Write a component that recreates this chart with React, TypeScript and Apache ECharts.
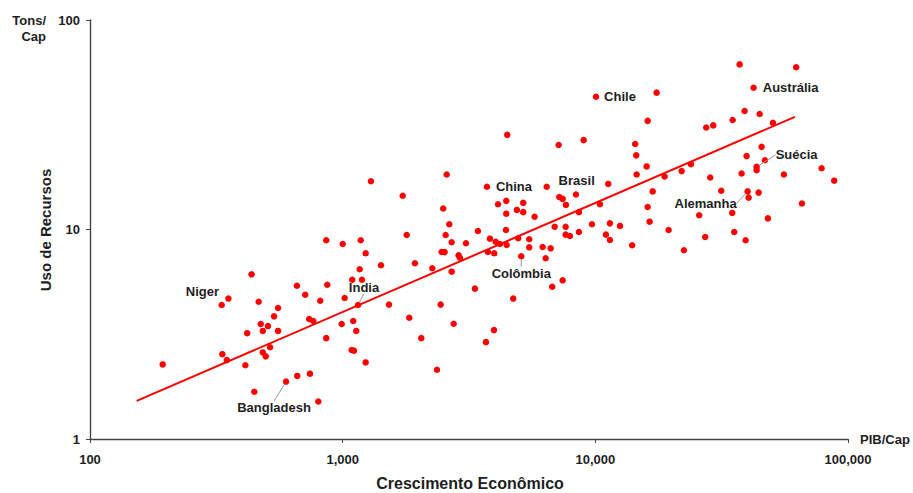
import React, { useEffect, useRef } from "react";
import * as echarts from "echarts";

// PIB per capita (x) and resource use in tons per capita (y)
const gdp = [
  194, 332, 436, 334, 348, 419, 412, 447, 465, 474, 483, 506, 483, 496, 516, 535, 555, 555,
  659, 661, 711, 737, 765, 742, 801, 815, 861, 869, 861, 991, 1000, 1018, 1091, 1101, 1085,
  1108, 1132, 1168, 1179, 1192, 1233, 1233, 1418, 1525, 1294, 1728, 1792, 1932, 2263, 2442,
  1835, 2047, 2580, 2500, 2642, 2556, 2700, 2465, 2533, 2700, 2877, 2912, 3076, 2750, 3338,
  3430, 3758, 3827, 3981, 3970, 3690, 4033, 4193, 4457, 4118, 4441, 4441, 4429, 4482, 4732,
  4894, 4953, 5184, 5184, 5475, 5475, 5750, 6186, 6358, 6655, 6752, 7424, 6901, 7158, 7198,
  7424, 7650, 7629, 7629, 7932, 8380, 8612, 8612, 8989, 9697, 10430, 11010, 11420, 11420,
  11250, 12520, 13990, 14380, 14520, 14570, 15960, 16110, 16860, 16110, 16400, 18800, 19500,
  21960, 23890, 22420, 25770, 17480, 27470, 29280, 34940, 37240, 38970, 44700, 50440, 62370,
  28490, 31500, 34830, 35460, 27220, 39330, 37920, 39690, 45510, 46910, 43480, 40430, 44290,
  48200, 55760, 65700, 78620, 88190, 2362,
];
const tons = [
  2.27, 4.36, 6.11, 2.54, 2.38, 3.2, 2.25, 1.68, 4.52, 3.54, 3.28, 3.46, 2.59, 2.48, 2.74, 3.85, 4.22, 3.28,
  5.39, 2.0, 4.88, 3.74, 3.66, 2.05, 1.51, 4.57, 8.88, 5.45, 3.03, 3.54, 8.53, 4.71, 5.76, 3.66, 2.66,
  2.64, 3.28, 6.46, 8.88, 5.76, 7.7, 2.32, 6.75, 4.38, 17.0, 14.5, 9.41, 6.9, 6.53, 4.38,
  3.79, 3.03, 18.3, 12.6, 10.6, 9.41, 8.69, 7.81, 7.8, 6.29, 7.53, 7.33, 8.6, 3.55, 5.22,
  9.83, 7.81, 9.04, 7.7, 3.31, 2.9, 8.74, 8.53, 8.43, 13.2, 13.7, 11.9, 9.95, 28.3, 4.68,
  12.4, 9.08, 13.4, 12.1, 8.98, 8.22, 11.5, 8.25, 7.29, 8.13, 5.33, 5.72, 10.3, 25.3, 14.3,
  14.0, 13.1, 10.3, 9.45, 9.31, 14.7, 12.1, 9.73, 26.7, 10.6, 13.2, 9.45, 10.7, 8.91,
  16.5, 10.4, 8.41, 25.6, 22.6, 18.3, 20.0, 33.0, 15.2, 12.8, 10.9, 17.9, 9.95,
  19.0, 20.5, 7.96, 11.7, 45.0, 30.7, 31.4, 33.3, 61.4, 36.8, 35.6, 32.3, 59.5,
  17.7, 15.3, 12.0, 9.73, 9.21, 8.88, 18.5, 22.4, 24.8, 21.4, 19.2, 14.2, 15.0,
  11.3, 18.3, 13.3, 19.6, 17.1, 2.14,
];

// Named countries
const countries = ["Niger", "India", "Bangladesh", "China", "Brasil", "Chile", "Colômbia", "Austrália", "Suécia", "Alemanha"];
const countryGdp = [353, 1150, 597, 3724, 6418, 10060, 5091, 42300, 43480, 40060];
const countryTons = [4.68, 4.36, 1.88, 16.0, 16.0, 43.0, 7.45, 47.5, 19.9, 15.2];

// Regression line end points
const trendGdp = [153, 61650];
const trendTons = [1.52, 34.5];

const xTicks = ["100", "1,000", "10,000", "100,000"];

// label placement (style only)
const labelStyle: Record<string, { dx: number; dy: number; line: boolean }> = {
  Niger: { dx: -26, dy: -7, line: false },
  India: { dx: 6, dy: -18, line: true },
  Bangladesh: { dx: -12, dy: 26, line: true },
  China: { dx: 27, dy: 0, line: false },
  Brasil: { dx: 30, dy: -6, line: false },
  Chile: { dx: 24, dy: 0, line: false },
  "Colômbia": { dx: 0, dy: 17, line: true },
  "Austrália": { dx: 37, dy: 0, line: false },
  "Suécia": { dx: 40, dy: -12, line: true },
  Alemanha: { dx: -42, dy: 12, line: true },
};

const FONT = "'Liberation Sans', Arial, sans-serif";
const TXT = "#1e1e1e";
const RED = "#ff0000";

export default function App() {
  const ref = useRef<HTMLDivElement>(null);
  useEffect(() => {
    if (!ref.current) return;
    const chart = echarts.init(ref.current, undefined, { renderer: "svg" });
    const pts = gdp.map((g, i) => [g, tons[i]]);
    const cData = countries.map((n, i) => ({
      name: n,
      value: [countryGdp[i], countryTons[i]],
      labelLine: { show: labelStyle[n].line },
    }));
    chart.setOption({
      animation: false,
      backgroundColor: "#fff",
      textStyle: { fontFamily: FONT },
      grid: { left: 90, right: 65, top: 20, bottom: 54, containLabel: false },
      xAxis: {
        type: "log",
        logBase: 10,
        min: 100,
        max: 100000,
        name: "PIB/Cap",
        nameLocation: "end",
        nameGap: 12,
        nameTextStyle: { fontWeight: "bold", fontSize: 13, color: TXT, fontFamily: FONT },
        axisLine: { show: true, lineStyle: { color: "#444", width: 1.4 } },
        axisTick: { show: true, inside: false, length: 4, lineStyle: { color: "#444" } },
        minorTick: { show: false },
        splitLine: { show: false },
        axisLabel: {
          margin: 14,
          fontWeight: "bold",
          fontSize: 13,
          color: TXT,
          fontFamily: FONT,
          formatter: (v: number) => {
            const i = Math.round(Math.log10(v)) - 2;
            return xTicks[i] ?? String(v);
          },
        },
      },
      yAxis: {
        type: "log",
        logBase: 10,
        min: 1,
        max: 100,
        axisLine: { show: true, lineStyle: { color: "#444", width: 1.4 } },
        axisTick: { show: true, inside: false, length: 4, lineStyle: { color: "#444" } },
        splitLine: { show: false },
        axisLabel: {
          margin: 10,
          fontWeight: "bold",
          fontSize: 13,
          color: TXT,
          fontFamily: FONT,
        },
      },
      series: [
        {
          type: "line",
          data: trendGdp.map((g, i) => [g, trendTons[i]]),
          symbol: "none",
          lineStyle: { color: RED, width: 2 },
          z: 1,
        },
        {
          type: "scatter",
          data: pts,
          symbol: "circle",
          symbolSize: 6.5,
          itemStyle: { color: RED, opacity: 1 },
          z: 2,
        },
        {
          type: "scatter",
          data: cData,
          symbol: "circle",
          symbolSize: 6.5,
          itemStyle: { color: RED, opacity: 1 },
          z: 3,
          label: {
            show: true,
            position: "inside",
            formatter: "{b}",
            fontWeight: "bold",
            fontSize: 13,
            color: TXT,
            fontFamily: FONT,
            textBorderWidth: 0,
          },
          labelLine: { show: false, lineStyle: { color: "#999", width: 1 } },
          labelLayout: (p: any) => {
            const s = labelStyle[countries[p.dataIndex]];
            return { dx: s.dx, dy: s.dy };
          },
        },
      ],
      graphic: [
        {
          type: "text",
          x: 46,
          y: 12,
          style: {
            text: "Tons/\nCap",
            textAlign: "right",
            textVerticalAlign: "top",
            fontWeight: "bold",
            fontSize: 13,
            lineHeight: 16,
            fill: TXT,
            fontFamily: FONT,
          },
        },
        {
          type: "text",
          x: 45,
          y: 230,
          rotation: Math.PI / 2,
          style: {
            text: "Uso de Recursos",
            textAlign: "center",
            textVerticalAlign: "middle",
            fontWeight: "bold",
            fontSize: 15,
            fill: TXT,
            fontFamily: FONT,
          },
        },
        {
          type: "text",
          x: 470,
          y: 483,
          style: {
            text: "Crescimento Econômico",
            textAlign: "center",
            textVerticalAlign: "middle",
            fontWeight: "bold",
            fontSize: 16,
            fill: TXT,
            fontFamily: FONT,
          },
        },
      ],
    });
    return () => chart.dispose();
  }, []);
  return (
    <div
      ref={ref}
      style={{ position: "fixed", left: 0, top: 0, width: 913, height: 493, background: "#fff" }}
    />
  );
}
